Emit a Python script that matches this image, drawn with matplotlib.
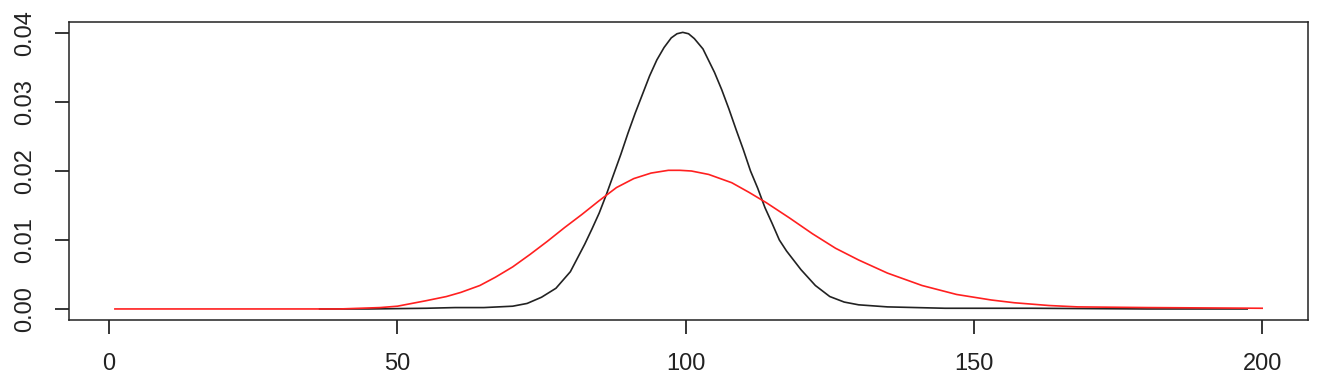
import numpy as np
import matplotlib as mpl
mpl.use('Agg')
import matplotlib.pyplot as plt

mpl.rcParams.update({
    "font.family": ["Liberation Sans", "DejaVu Sans"],
    "font.size": 17,
    "axes.linewidth": 1.1,
    "xtick.major.size": 10,
    "ytick.major.size": 10,
    "xtick.major.width": 1.1,
    "ytick.major.width": 1.1,
    "xtick.major.pad": 14,
    "ytick.major.pad": 14,
    "text.color": "#222222",
    "xtick.labelcolor": "#222222",
    "ytick.labelcolor": "#222222",
})

# black density curve (narrow)
black_x = [36.5, 45, 55, 60, 65, 70, 72.5, 75, 77.5, 80, 82.5, 83.75, 85,
           86.25, 87.5, 88.75, 90, 91.25, 92.5, 93.75, 95, 96.25, 97.5, 98.5,
           99.5, 100.5, 101.5, 103, 105, 106.25, 107.5, 108.75, 110, 111.25,
           112.5, 113.75, 115, 116.25, 117.5, 120, 122.5, 125, 127.5, 130,
           135, 140, 145, 160, 180, 197.4]
black_y = [0.0000, 0.0000, 0.0001, 0.0002, 0.0002, 0.0004, 0.0008, 0.0017,
           0.0030, 0.0054, 0.0094, 0.0116, 0.0139, 0.0166, 0.0195, 0.0224,
           0.0255, 0.0284, 0.0311, 0.0338, 0.0361, 0.0379, 0.0393, 0.0399,
           0.0401, 0.0399, 0.0392, 0.0377, 0.0343, 0.0318, 0.0290, 0.0260,
           0.0231, 0.0200, 0.0175, 0.0147, 0.0124, 0.0100, 0.0084, 0.0057,
           0.0034, 0.0018, 0.0010, 0.0006, 0.0003, 0.0002, 0.0001, 0.0001,
           0.0000, 0.0000]

# red density curve (wide)
red_x = [1, 20, 40, 47, 50, 52.5, 55, 58.5, 61, 64.3, 67, 70, 73, 76, 79, 82,
         85, 88, 91, 94, 97, 99, 101, 104, 108, 111, 114, 118, 122, 126, 130,
         135, 141, 147, 153, 157, 163, 168, 180, 200]
red_y = [0.0000, 0.0000, 0.0000, 0.0002, 0.0004, 0.0008, 0.0012, 0.0018,
         0.0024, 0.0034, 0.0046, 0.0061, 0.0079, 0.0098, 0.0118, 0.0137,
         0.0157, 0.0176, 0.0189, 0.0197, 0.0201, 0.0201, 0.0200, 0.0195,
         0.0183, 0.0169, 0.0154, 0.0132, 0.0109, 0.0088, 0.0071, 0.0052,
         0.0034, 0.0021, 0.0013, 0.0009, 0.0005, 0.0003, 0.0002, 0.0001]

xticks = [0, 50, 100, 150, 200]
yticks = [0.00, 0.01, 0.02, 0.03, 0.04]

fig = plt.figure(figsize=(13.3, 3.89), dpi=100)
ax = fig.add_axes([0.0519, 0.1774, 0.9316, 0.766])

ax.plot(black_x, black_y, color="#222222", lw=1.2)
ax.plot(red_x, red_y, color="#ff2020", lw=1.2)

# R style 4% padding
ax.set_xlim(1 - 0.04 * 199, 200 + 0.04 * 199)
ax.set_ylim(-0.0016, 0.0416)
ax.set_xticks(xticks)
ax.set_xticklabels([str(t) for t in xticks])
ax.set_yticks(yticks)
ax.set_yticklabels(['%.2f' % t for t in yticks], rotation=90, va='center')
for s in ax.spines.values():
    s.set_color("#222222")

fig.savefig("out.png", dpi=100)
